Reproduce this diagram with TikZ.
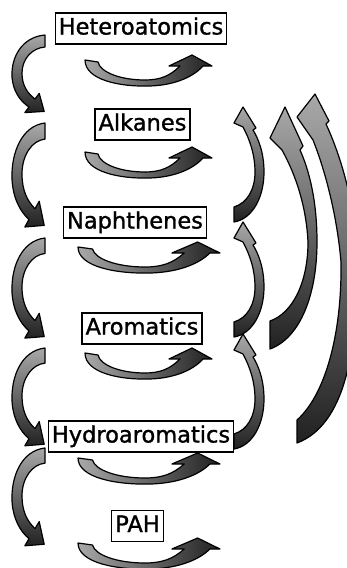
\documentclass[tikz,border=0pt]{standalone}
\usepackage{fontspec}
\setmainfont{DejaVu Sans}
\newfontfamily\lblfont[FakeBold=1.3]{DejaVu Sans}
\definecolor{lite}{gray}{0.66}
\definecolor{dark}{gray}{0.13}
\begin{document}
\begin{tikzpicture}[x=1pt,y=-1pt,
  lbl/.style={draw=black, line width=1.3pt, fill=white, inner xsep=3.5pt, inner ysep=5pt,
    text height=16.5pt, text depth=4.5pt, font=\lblfont\fontsize{22.5}{26}\selectfont},
  arr/.style={draw=black, line width=1.2pt, line join=round},
  harr/.style={arr, left color=lite, middle color=lite!75!dark, right color=dark},
  varr/.style={arr, top color=lite, bottom color=dark},
  rarr/.style={arr, top color=lite, middle color=lite!88!dark, bottom color=dark},
  uarrow/.pic={
    \path[harr] (0,5) .. controls (0,25) and (35,32) .. (65,31)
      .. controls (93,30) and (110,20) .. (118,11) -- (127,11) -- (107,0) -- (84,11) -- (95,11)
      .. controls (85,21) and (75,25) .. (60,25) .. controls (35,25) and (15,17) .. (13,7) -- cycle;
  },
  larrow/.pic={
    \path[varr] (45,0) .. controls (22,2) and (11,22) .. (12,42)
      .. controls (13,56) and (20,66) .. (29,72) -- (24.8,77.6) -- (44.2,76.4) -- (39.2,58.4) -- (35,64)
      .. controls (27,58) and (22,50) .. (22,38) .. controls (22,24) and (32,13) .. (45,12) -- cycle;
  },
  rarrow/.pic={
    \path[rarr] (243,107) -- (234,123) -- (243,127) .. controls (250,140) and (255,155) .. (255,172)
      .. controls (255,190) and (247,203) .. (234,207) -- (234,222)
      .. controls (252,219) and (264,198) .. (264,172) .. controls (264,152) and (258,138) .. (253,130)
      -- (256,128) -- cycle;
  }
]
\useasboundingbox (0,0) rectangle (347,568);
\clip (0,0) rectangle (347,568);

% horizontal curved arrows under the boxes
\pic at (85,55) {uarrow};
\pic at (85,147) {uarrow};
\pic[xscale=1.118] at (78,242) {uarrow};
\pic at (85,348) {uarrow};
\pic[xscale=1.118] at (78,453) {uarrow};
\pic[xscale=1.118] at (78,538) {uarrow};

% left descending arrows
\pic at (0,35) {larrow};
\pic[yscale=1.34] at (0,123) {larrow};
\pic[yscale=1.29] at (0,238) {larrow};
\pic[yscale=1.26] at (0,348) {larrow};
\pic[yscale=1.26] at (0,448) {larrow};

% right ascending arrows (inner column)
\pic at (0,0) {rarrow};
\pic at (0,115) {rarrow};
\pic at (0,227) {rarrow};

% middle ascending arrow
\path[rarr] (285,107) -- (270,138) -- (282,150) .. controls (292,168) and (306,200) .. (308,242)
  .. controls (308,282) and (293,313) .. (270,321) -- (270,349)
  .. controls (300,338) and (317,295) .. (317,242) .. controls (317,200) and (309,170) .. (300,150)
  -- (303,146) -- cycle;

% outer ascending arrow
\path[rarr] (315,94) -- (297,117) -- (313,140) .. controls (325,170) and (337,215) .. (341,262)
  .. controls (342,335) and (325,395) .. (297,420) -- (297,443)
  .. controls (345,425) and (358,350) .. (357,262) .. controls (356,200) and (338,150) .. (326,124)
  -- (329,121) -- cycle;

% boxes
\node[lbl] (het) at (141,28.5) {Heteroatomics};
\node[lbl] (alk) at (142.5,124.5) {Alkanes};
\node[lbl] (nap) at (135,222.5) {Naphthenes};
\node[lbl] (aro) at (142,328.5) {Aromatics};
\node[lbl] (hyd) at (141,436.5) {Hydroaromatics};
\node[lbl] (pah) at (137.5,526) {PAH};
\end{tikzpicture}
\end{document}
